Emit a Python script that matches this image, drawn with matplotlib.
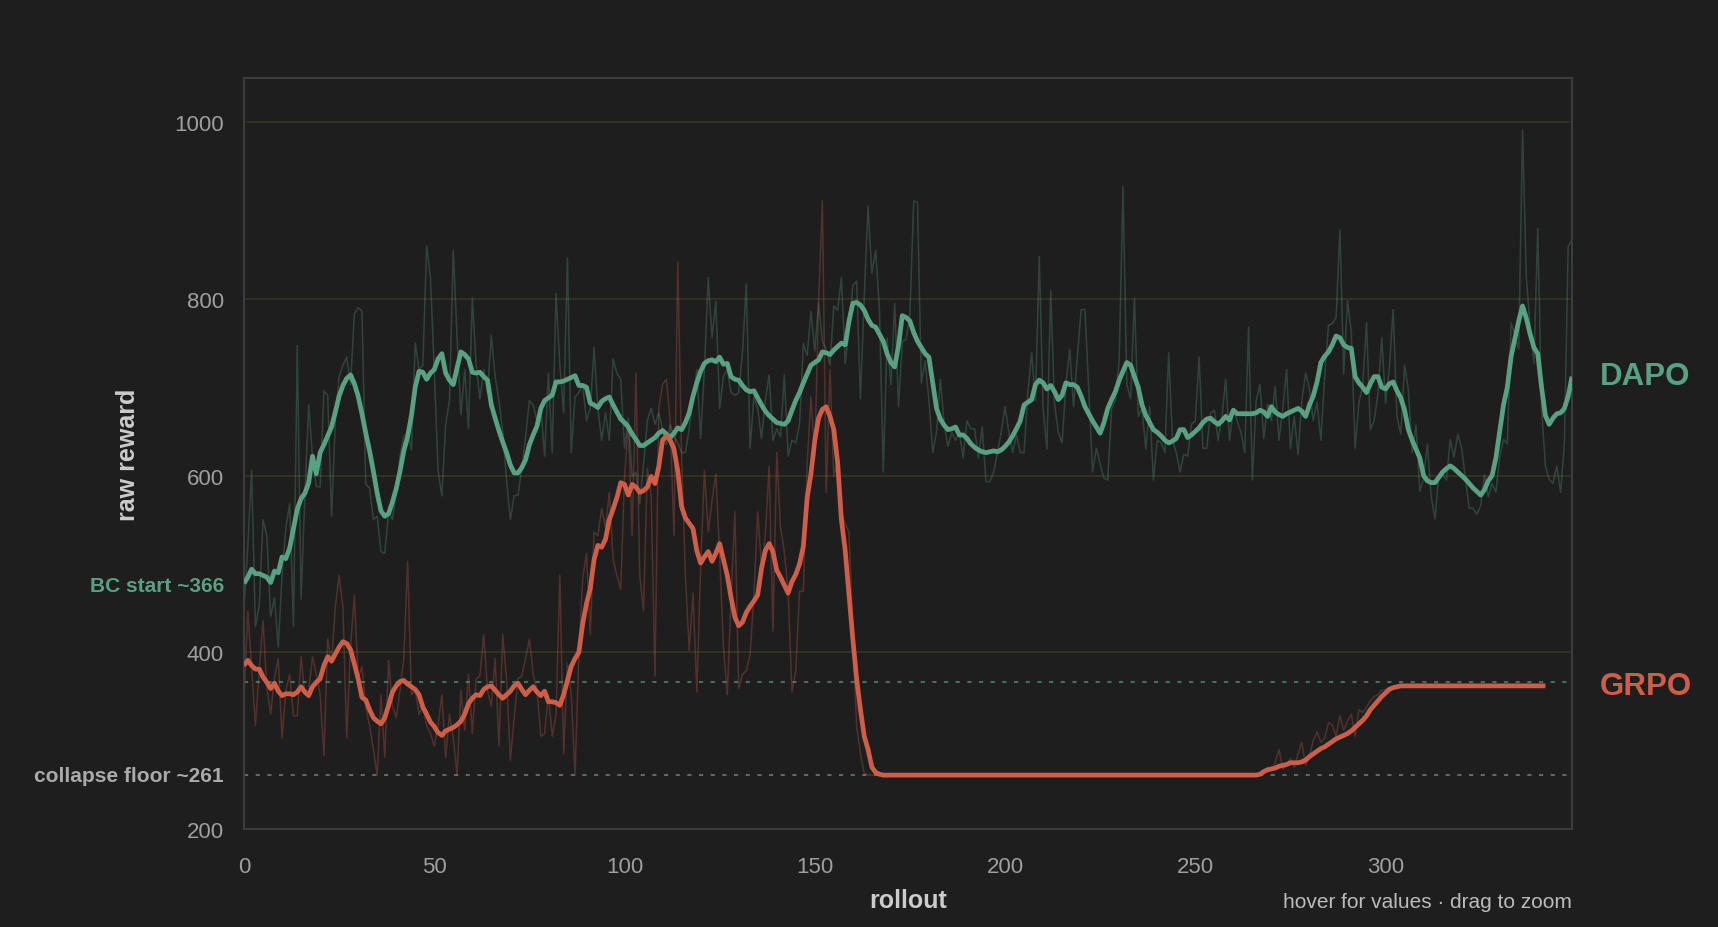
import numpy as np
import matplotlib
matplotlib.use("Agg")
import matplotlib.pyplot as plt
from matplotlib import transforms

# ---------------- data ----------------
DAPO_RAW = [
    450, 520, 606, 429, 453, 550, 532, 440, 462, 406,
    487, 541, 568, 429, 747, 460, 577, 680, 622, 588,
    587, 696, 691, 554, 662, 712, 725, 734, 703, 783,
    790, 786, 590, 586, 550, 554, 514, 512, 559, 550,
    581, 622, 644, 649, 629, 750, 720, 725, 860, 824,
    720, 606, 577, 658, 685, 855, 756, 669, 720, 653,
    801, 725, 687, 720, 694, 759, 712, 685, 649, 595,
    550, 577, 578, 608, 644, 685, 680, 662, 676, 622,
    716, 626, 806, 725, 671, 846, 626, 689, 694, 703,
    662, 676, 745, 676, 640, 671, 640, 732, 716, 709,
    631, 665, 599, 604, 568, 613, 662, 676, 658, 671,
    653, 635, 658, 644, 637, 626, 626, 653, 689, 720,
    642, 720, 824, 756, 797, 676, 712, 720, 694, 691,
    694, 739, 817, 631, 689, 676, 642, 685, 714, 640,
    653, 644, 714, 622, 640, 637, 658, 750, 736, 786,
    741, 795, 752, 743, 725, 792, 787, 824, 727, 764,
    815, 820, 687, 801, 905, 829, 855, 788, 604, 756,
    703, 795, 678, 752, 754, 783, 911, 909, 705, 730,
    685, 626, 649, 709, 658, 633, 649, 640, 649, 620,
    662, 653, 653, 620, 655, 593, 593, 604, 626, 649,
    678, 649, 626, 646, 626, 626, 694, 739, 685, 848,
    676, 630, 810, 681, 649, 637, 703, 743, 678, 734,
    788, 788, 698, 604, 631, 613, 597, 595, 676, 685,
    730, 927, 703, 687, 801, 667, 676, 630, 678, 595,
    640, 637, 626, 739, 640, 626, 604, 624, 622, 658,
    662, 734, 631, 631, 671, 674, 640, 667, 709, 640,
    676, 662, 649, 626, 768, 595, 685, 703, 642, 681,
    662, 701, 640, 676, 720, 630, 667, 624, 685, 716,
    698, 662, 683, 640, 712, 770, 772, 779, 878, 715,
    798, 763, 631, 682, 702, 773, 652, 662, 692, 756,
    682, 722, 788, 667, 647, 725, 697, 626, 657, 582,
    597, 636, 576, 551, 601, 601, 595, 641, 621, 647,
    631, 596, 563, 563, 556, 566, 601, 576, 591, 581,
    621, 641, 636, 773, 758, 743, 991, 824, 768, 727,
    880, 677, 611, 596, 591, 611, 581, 636, 859, 867,
]

DAPO_SMOOTH = [
    478, 485, 494, 489, 489, 487, 485, 479, 492, 490,
    508, 506, 518, 540, 562, 574, 580, 592, 622, 602,
    626, 635, 645, 655, 672, 690, 702, 710, 714, 704,
    690, 670, 648, 628, 605, 580, 560, 554, 557, 570,
    585, 605, 628, 644, 668, 700, 718, 717, 709, 716,
    720, 732, 738, 716, 708, 703, 722, 740, 737, 732,
    717, 716, 717, 712, 708, 680, 665, 651, 638, 626,
    612, 603, 603, 609, 618, 635, 646, 656, 676, 685,
    688, 691, 706, 706, 707, 709, 711, 713, 702, 702,
    700, 682, 680, 677, 684, 687, 689, 680, 672, 664,
    660, 655, 647, 641, 634, 634, 637, 640, 643, 648,
    651, 647, 643, 648, 654, 652, 660, 671, 690, 705,
    718, 727, 730, 731, 729, 734, 726, 727, 712, 709,
    708, 702, 697, 695, 696, 688, 680, 673, 668, 664,
    660, 659, 658, 662, 674, 685, 694, 705, 715, 725,
    728, 731, 740, 739, 737, 742, 746, 750, 748, 775,
    795, 796, 793, 787, 777, 770, 768, 760, 752, 738,
    728, 723, 747, 781, 779, 775, 762, 752, 745, 738,
    734, 705, 676, 664, 657, 652, 653, 655, 646, 646,
    642, 636, 632, 629, 627, 626, 627, 628, 627, 629,
    633, 638, 645, 653, 662, 680, 683, 686, 703, 708,
    705, 698, 702, 695, 686, 691, 705, 703, 703, 700,
    690, 678, 670, 662, 655, 648, 660, 676, 686, 695,
    708, 718, 728, 725, 712, 700, 680, 668, 660, 652,
    649, 645, 640, 637, 639, 642, 652, 652, 643, 646,
    650, 654, 660, 664, 665, 661, 658, 662, 667, 663,
    674, 670, 670, 670, 670, 670, 671, 674, 672, 667,
    678, 672, 669, 667, 670, 672, 674, 676, 673, 667,
    680, 690, 706, 728, 735, 740, 748, 758, 756, 748,
    745, 744, 712, 705, 700, 694, 704, 712, 712, 700,
    698, 704, 706, 696, 688, 674, 652, 640, 630, 620,
    600, 594, 592, 592, 598, 604, 608, 611, 608, 604,
    600, 596, 591, 586, 582, 578, 584, 594, 600, 620,
    650, 680, 700, 735, 755, 775, 792, 778, 760, 745,
    738, 700, 668, 658, 665, 670, 671, 676, 690, 712,
]

GRPO_RAW = [
    348, 447, 384, 317, 379, 436, 361, 330, 370, 393,
    303, 357, 375, 328, 328, 395, 352, 357, 395, 375,
    352, 283, 415, 388, 451, 487, 451, 303, 406, 465,
    370, 384, 339, 317, 290, 261, 352, 281, 391, 339,
    326, 357, 393, 503, 352, 357, 330, 339, 317, 308,
    294, 317, 352, 281, 330, 303, 261, 357, 312, 375,
    308, 370, 373, 420, 357, 339, 393, 294, 420, 370,
    278, 326, 370, 373, 393, 415, 375, 357, 305, 308,
    352, 305, 330, 487, 285, 388, 352, 261, 397, 483,
    512, 420, 536, 532, 563, 541, 581, 505, 487, 471,
    599, 658, 532, 716, 487, 447, 608, 577, 373, 676,
    703, 709, 662, 532, 842, 622, 487, 402, 467, 355,
    496, 606, 536, 572, 602, 510, 406, 352, 460, 559,
    359, 375, 379, 397, 465, 559, 496, 532, 611, 424,
    626, 541, 514, 469, 355, 379, 469, 469, 613, 689,
    622, 797, 911, 581, 720, 599, 617, 559, 545, 536,
    420, 317, 285, 263, 261, 261, 261,
    261, 261, 261, 261, 261, 261, 261, 261, 261, 261,
    261, 261, 261, 261, 261, 261, 261, 261, 261, 261,
    261, 261, 261, 261, 261, 261, 261, 261, 261, 261,
    261, 261, 261, 261, 261, 261, 261, 261, 261, 261,
    261, 261, 261, 261, 261, 261, 261, 261, 261, 261,
    261, 261, 261, 261, 261, 261, 261, 261, 261, 261,
    261, 261, 261, 261, 261, 261, 261, 261, 261, 261,
    261, 261, 261, 261, 261, 261, 261, 261, 261, 261,
    261, 261, 261, 261, 261, 261, 261, 261, 261, 261,
    261, 261, 261, 261, 261, 261, 261, 261, 261, 261,
    262, 263, 270, 266, 275, 290, 268, 272, 280, 270, 285, 298, 272,
    282, 300, 310, 298, 303, 320, 318, 305, 328, 312, 322,
    330, 305, 335, 332, 338, 345, 350, 352, 357, 358, 360, 361,
    362, 362, 362, 362, 362, 362, 362, 362, 362, 362,
    362, 362, 362, 362, 362, 362, 362, 362, 362, 362,
    362, 362, 362, 362, 362, 362, 362, 362, 362, 362,
    362, 362, 362, 362, 362, 362, 362, 362, 362, 362,
]

GRPO_SMOOTH = [
    385, 391, 385, 381, 381, 372, 366, 359, 365, 356,
    351, 353, 353, 352, 355, 361, 355, 351, 361, 366,
    370, 385, 395, 390, 398, 406, 412, 410, 403, 387,
    370, 349, 346, 335, 326, 322, 319, 326, 340, 355,
    362, 367, 368, 364, 361, 358, 352, 338, 330, 321,
    316, 309, 306, 311, 313, 315, 318, 322, 330, 342,
    348, 352, 351, 358, 361, 362, 357, 352, 348, 352,
    356, 362, 365, 358, 352, 357, 361, 355, 351, 356,
    344, 344, 343, 340, 352, 368, 384, 393, 400, 432,
    455, 472, 505, 521, 519, 528, 550, 562, 575, 592,
    590, 578, 590, 587, 581, 583, 587, 599, 591, 610,
    640, 645, 640, 630, 605, 565, 552, 546, 540, 515,
    501, 508, 514, 503, 512, 523, 505, 487, 462, 440,
    430, 434, 445, 452, 458, 465, 495, 515, 523, 514,
    493, 485, 476, 467, 480, 488, 500, 520, 575, 602,
    640, 665, 675, 678, 667, 652, 615, 550, 515, 465,
    415, 370, 335, 305, 290, 270, 264,
    262, 261, 261, 261, 261, 261, 261, 261, 261, 261,
    261, 261, 261, 261, 261, 261, 261, 261, 261, 261,
    261, 261, 261, 261, 261, 261, 261, 261, 261, 261,
    261, 261, 261, 261, 261, 261, 261, 261, 261, 261,
    261, 261, 261, 261, 261, 261, 261, 261, 261, 261,
    261, 261, 261, 261, 261, 261, 261, 261, 261, 261,
    261, 261, 261, 261, 261, 261, 261, 261, 261, 261,
    261, 261, 261, 261, 261, 261, 261, 261, 261, 261,
    261, 261, 261, 261, 261, 261, 261, 261, 261, 261,
    261, 261, 261, 261, 261, 261, 261, 261, 261, 261,
    262, 265, 267, 268, 269, 271, 272, 273, 275, 275, 275, 276, 278,
    282, 285, 288, 291, 293, 296, 299, 302, 304, 306, 308,
    311, 315, 319, 323, 328, 335, 340, 345, 350, 354, 358, 360,
    361,
    362, 362, 362, 362, 362, 362, 362, 362, 362, 362,
    362, 362, 362, 362, 362, 362, 362, 362, 362, 362,
    362, 362, 362, 362, 362, 362, 362, 362, 362, 362,
    362, 362, 362, 362, 362, 362, 362, 362, 362,
]

X_TICKS = [0, 50, 100, 150, 200, 250, 300]
Y_TICKS = [200, 400, 600, 800, 1000]
BC_START = 366
COLLAPSE_FLOOR = 261
BC_LABEL_Y = 476

# ---------------- style ----------------
plt.rcParams['font.family'] = ['Liberation Sans', 'DejaVu Sans']
BG = "#1e1e1e"
DAPO_C = "#58a283"
GRPO_C = "#cf5e49"
TICK_C = "#9f9f9f"
LABEL_C = "#cccccc"

W, H = 1718, 928
fig = plt.figure(figsize=(W / 100, H / 100), dpi=100, facecolor=BG)
ax = fig.add_axes([244 / W, 1 - 830 / H, 1328 / W, 751 / H])
ax.set_facecolor(BG)

x_d = np.arange(len(DAPO_RAW))
x_g = np.arange(len(GRPO_RAW))

# grid
ax.set_yticks(Y_TICKS)
ax.set_xticks(X_TICKS)
ax.grid(axis='y', color='#37341f', lw=1.2, zorder=0)
ax.grid(axis='x', visible=False)

# reference lines
ax.axhline(BC_START, color='#44705f', lw=1.5, ls=(0, (2.0, 3.6)), zorder=1)
ax.axhline(COLLAPSE_FLOOR, color='#666666', lw=1.5, ls=(0, (2.0, 3.6)), zorder=1)

# raw
ax.plot(x_d, DAPO_RAW, color=DAPO_C, alpha=0.3, lw=1.1, zorder=2)
ax.plot(x_g, GRPO_RAW, color=GRPO_C, alpha=0.3, lw=1.1, zorder=2)
# smoothed
ax.plot(x_d, DAPO_SMOOTH, color=DAPO_C, lw=3.4, zorder=4, solid_joinstyle='round', solid_capstyle='butt')
ax.plot(x_g, GRPO_SMOOTH, color=GRPO_C, lw=3.4, zorder=4, solid_joinstyle='round', solid_capstyle='butt')

ax.set_xlim(0, 349)
ax.set_ylim(200, 1050)

for s in ax.spines.values():
    s.set_color('#3c3c3c')
    s.set_linewidth(1.5)

ax.tick_params(axis='both', length=0, colors=TICK_C, labelsize=16)
ax.tick_params(axis='y', pad=14.5)
ax.tick_params(axis='x', pad=19.5)

# annotations on the y axis
bt = transforms.blended_transform_factory(ax.transAxes, ax.transData)
ax.annotate("BC start ~366", xy=(0, BC_LABEL_Y), xycoords=bt, xytext=(-14.5, 0),
            textcoords='offset points', ha='right', va='center', color=DAPO_C,
            fontsize=15, fontweight='bold', annotation_clip=False)
ax.annotate("collapse floor ~261", xy=(0, COLLAPSE_FLOOR), xycoords=bt, xytext=(-14.5, 0),
            textcoords='offset points', ha='right', va='center', color='#aaaaaa',
            fontsize=15, fontweight='bold', annotation_clip=False)

# series labels at the right
ax.annotate("DAPO", xy=(1, DAPO_SMOOTH[-1]), xycoords=bt, xytext=(20, 0.7),
            textcoords='offset points', ha='left', va='center', color=DAPO_C,
            fontsize=22.5, fontweight='bold', annotation_clip=False)
ax.annotate("GRPO", xy=(1, GRPO_SMOOTH[-1]), xycoords=bt, xytext=(20, 0),
            textcoords='offset points', ha='left', va='center', color=GRPO_C,
            fontsize=22.5, fontweight='bold', annotation_clip=False)

# axis titles
fig.text(908 / W, 1 - 901 / H, "rollout", ha='center', va='center',
         color=LABEL_C, fontsize=18, fontweight='bold')
fig.text(128 / W, 1 - 455 / H, "raw reward", ha='center', va='center', rotation=90,
         color=LABEL_C, fontsize=18, fontweight='bold')
fig.text(1572 / W, 1 - 903 / H, "hover for values \u00b7 drag to zoom", ha='right', va='center',
         color='#bbbbbb', fontsize=15)

fig.savefig("out.png", dpi=100, facecolor=BG)
